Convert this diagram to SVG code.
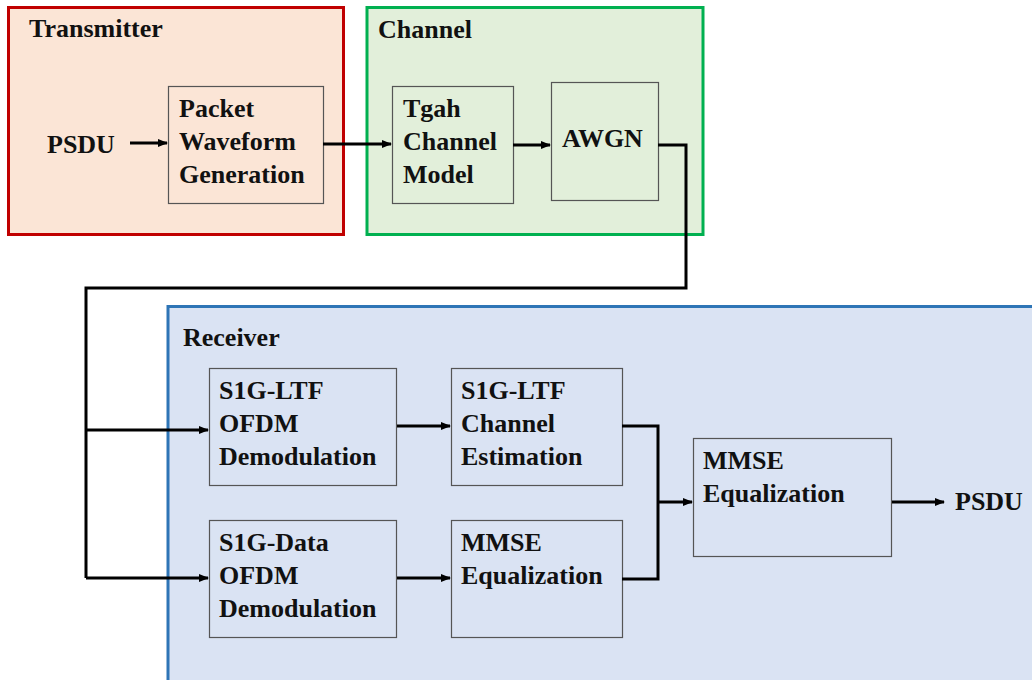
<svg xmlns="http://www.w3.org/2000/svg" width="1032" height="680" viewBox="0 0 1032 680">
<style>
text{font-family:"Liberation Serif","Times New Roman",serif;font-weight:bold;font-size:26px;fill:#111}
.blk{stroke:#555;stroke-width:1.2}
.tx{fill:#fbe5d6}
.ch{fill:#e2efda}
.rx{fill:#dae3f3}
.conn{fill:none;stroke:#000;stroke-width:3}
</style>
<defs>
<marker id="ah" markerWidth="10" markerHeight="8" refX="9" refY="4" orient="auto" markerUnits="userSpaceOnUse">
<path d="M0,0 L10,4 L0,8 z" fill="#000"/>
</marker>
</defs>
<rect width="1032" height="680" fill="#fff"/>
<g id="transmitter">
<rect x="8.5" y="7.5" width="335" height="227" fill="#fbe5d6" stroke="#c00000" stroke-width="3"/>
<text x="29" y="37">Transmitter</text>
</g>
<g id="channel">
<rect x="367" y="7.5" width="336" height="227" fill="#e2efda" stroke="#00b050" stroke-width="3"/>
<text x="378" y="38">Channel</text>
</g>
<g id="receiver">
<rect x="168" y="306.5" width="870" height="375" fill="#dae3f3" stroke="#2e75b6" stroke-width="3"/>
<text x="183" y="346">Receiver</text>
</g>
<g id="psdu-in"><text x="47" y="153">PSDU</text></g>
<g id="packet-gen">
<rect class="blk tx" x="168.5" y="86.5" width="155" height="117"/>
<text x="179" y="117">Packet</text><text x="179" y="150">Waveform</text><text x="179" y="183">Generation</text>
</g>
<g id="tgah">
<rect class="blk ch" x="392.5" y="86.5" width="121" height="117"/>
<text x="403" y="117">Tgah</text><text x="403" y="150">Channel</text><text x="403" y="183">Model</text>
</g>
<g id="awgn">
<rect class="blk ch" x="551.5" y="82.5" width="107" height="118"/>
<text x="562" y="147">AWGN</text>
</g>
<g id="ltf-ofdm">
<rect class="blk rx" x="209.5" y="368.5" width="187" height="117"/>
<text x="219" y="399">S1G-LTF</text><text x="219" y="432">OFDM</text><text x="219" y="465">Demodulation</text>
</g>
<g id="ltf-chest">
<rect class="blk rx" x="451.5" y="368.5" width="171" height="117"/>
<text x="461" y="399">S1G-LTF</text><text x="461" y="432">Channel</text><text x="461" y="465">Estimation</text>
</g>
<g id="data-ofdm">
<rect class="blk rx" x="209.5" y="520.5" width="187" height="117"/>
<text x="219" y="551">S1G-Data</text><text x="219" y="584">OFDM</text><text x="219" y="617">Demodulation</text>
</g>
<g id="mmse-eq1">
<rect class="blk rx" x="451.5" y="520.5" width="171" height="117"/>
<text x="461" y="551">MMSE</text><text x="461" y="584">Equalization</text>
</g>
<g id="mmse-eq2">
<rect class="blk rx" x="693.5" y="438.5" width="198" height="118"/>
<text x="703" y="469">MMSE</text><text x="703" y="502">Equalization</text>
</g>
<g id="psdu-out"><text x="955" y="510">PSDU</text></g>
<g id="connectors">
<path class="conn" d="M130,143 H167" marker-end="url(#ah)"/>
<path class="conn" d="M323,144 H391" marker-end="url(#ah)"/>
<path class="conn" d="M513,145 H550" marker-end="url(#ah)"/>
<path class="conn" d="M658,145 H686 V288 H86 V578"/>
<path class="conn" d="M86,430 H208" marker-end="url(#ah)"/>
<path class="conn" d="M86,578 H208" marker-end="url(#ah)"/>
<path class="conn" d="M397,426 H450" marker-end="url(#ah)"/>
<path class="conn" d="M397,578 H450" marker-end="url(#ah)"/>
<path class="conn" d="M622,426 H658 V579 H622"/>
<path class="conn" d="M658,502 H692" marker-end="url(#ah)"/>
<path class="conn" d="M892,502 H944" marker-end="url(#ah)"/>
</g>
</svg>
